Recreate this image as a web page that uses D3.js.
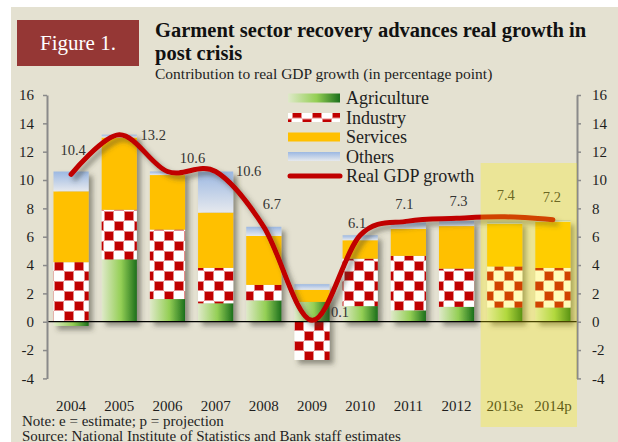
<!DOCTYPE html>
<html>
<head>
<meta charset="utf-8">
<script src="https://cdn.jsdelivr.net/npm/d3@7"></script>
<style>
  html, body { margin: 0; padding: 0; background: #fff; }
  svg text { font-family: 'Liberation Serif', 'Times New Roman', serif; }
</style>
</head>
<body>
<div id="chart"></div>
<script>
const years       = ['2004', '2005', '2006', '2007', '2008', '2009', '2010', '2011', '2012', '2013e', '2014p']
const agriculture = [-0.3, 4.4, 1.6, 1.3, 1.5, 1.4, 1.1, 0.8, 1.05, 1.0, 1.0]
const industry    = [4.2, 3.5, 4.9, 2.5, 1.1, -2.7, 3.35, 3.85, 2.7, 2.9, 2.8]
const services    = [5.0, 5.1, 3.85, 3.9, 3.45, 0.85, 1.3, 1.9, 3.0, 3.0, 3.25]
const others      = [1.4, 0.2, 0.25, 2.9, 0.65, 0.4, 0.35, 0.45, 0.35, 0.15, 0.1]
const gdpGrowth   = [10.4, 13.2, 10.6, 10.6, 6.7, 0.1, 6.1, 7.1, 7.3, 7.4, 7.2]
const yTicks      = [-4, -2, 0, 2, 4, 6, 8, 10, 12, 14, 16]
const seriesKeys  = ['Agriculture', 'Industry', 'Services', 'Others']
const lineName    = 'Real GDP growth'
const shaded      = ['2013e', '2014p']

const titleLines = ['Garment sector recovery advances real growth in', 'post crisis']
const subtitle   = 'Contribution to real GDP growth (in percentage point)'
const notes      = ['Note: e = estimate; p = projection',
                    'Source: National Institute of Statistics and Bank staff estimates']

const W = 618, H = 442
const plot = { left: 47, right: 577, top: 95, bottom: 378.4 }

const svg = d3.select('#chart').append('svg')
  .attr('width', W).attr('height', H)

svg.append('rect').attr('x', 11).attr('y', 7)
  .attr('width', W - 11).attr('height', H - 7)
  .attr('fill', '#e4e1d1')

// ---- defs: gradients, checker, shadow
const defs = svg.append('defs')

const agriGrad = defs.append('linearGradient').attr('id', 'agri')
  .attr('x1', 0).attr('x2', 1).attr('y1', 0).attr('y2', 0)
agriGrad.append('stop').attr('offset', '0%').attr('stop-color', '#dfe9c9')
agriGrad.append('stop').attr('offset', '55%').attr('stop-color', '#94cf55')
agriGrad.append('stop').attr('offset', '100%').attr('stop-color', '#1b6f1b')

const othGrad = defs.append('linearGradient').attr('id', 'oth')
  .attr('x1', 0).attr('x2', 0).attr('y1', 0).attr('y2', 1)
othGrad.append('stop').attr('offset', '0%').attr('stop-color', '#9cb8e2')
othGrad.append('stop').attr('offset', '100%').attr('stop-color', '#e6e9ee')

const checker = defs.append('pattern').attr('id', 'checker')
  .attr('patternUnits', 'userSpaceOnUse')
  .attr('x', 54).attr('y', 1).attr('width', 20).attr('height', 20)
checker.append('rect').attr('width', 20).attr('height', 20).attr('fill', '#fff')
checker.selectAll('rect.c')
  .data([[0, 0], [10, 10]])
  .join('rect').attr('class', 'c')
    .attr('x', d => d[0] + 0.5).attr('y', d => d[1] + 0.5)
    .attr('width', 9).attr('height', 9)
    .attr('fill', '#c00000')
    .attr('stroke', '#e58a8a').attr('stroke-width', 1)

const shadow = defs.append('filter').attr('id', 'shadow')
  .attr('x', '-20%').attr('y', '-20%').attr('width', '160%').attr('height', '160%')
shadow.append('feDropShadow')
  .attr('dx', 4).attr('dy', 4).attr('stdDeviation', 2.5)
  .attr('flood-color', '#3a3a30').attr('flood-opacity', 0.5)

const fills = {
  Agriculture: 'url(#agri)',
  Industry:    'url(#checker)',
  Services:    '#ffc000',
  Others:      'url(#oth)',
}

// ---- scales
const x = d3.scaleBand().domain(years)
  .range([plot.left, plot.right])
  .paddingInner(0.27).paddingOuter(0.135)

const y = d3.scaleLinear().domain([-4, 16]).range([plot.bottom, plot.top])

// ---- stacked bars
const table = years.map((yr, i) => ({
  year: yr,
  Agriculture: agriculture[i],
  Industry: industry[i],
  Services: services[i],
  Others: others[i],
}))

const stacked = d3.stack().keys(seriesKeys).offset(d3.stackOffsetDiverging)(table)

const barsG = svg.append('g')
const perYear = years.map((yr, i) => stacked.map(s => ({ key: s.key, y0: s[i][0], y1: s[i][1], year: yr })))

barsG.selectAll('g.bar')
  .data(perYear)
  .join('g').attr('class', 'bar')
    .attr('filter', 'url(#shadow)')
  .selectAll('rect')
  .data(d => d)
  .join('rect')
    .attr('x', d => x(d.year))
    .attr('width', x.bandwidth())
    .attr('y', d => y(Math.max(d.y0, d.y1)))
    .attr('height', d => Math.abs(y(d.y0) - y(d.y1)))
    .attr('fill', d => fills[d.key])

// zero line
svg.append('line')
  .attr('x1', plot.left).attr('x2', plot.right)
  .attr('y1', y(0)).attr('y2', y(0))
  .attr('stroke', '#000').attr('stroke-width', 1.2)

// ---- axes
function styleAxis(g) {
  g.select('.domain').attr('stroke', '#8a8a8a').attr('stroke-width', 2)
  g.selectAll('.tick line').attr('stroke', '#8a8a8a').attr('stroke-width', 1.5)
  g.selectAll('.tick text')
    .attr('fill', '#1e1e1e')
    .attr('font-size', '15px')
    .attr('font-family', "'Liberation Serif', serif")
}

svg.append('g')
  .attr('transform', `translate(${plot.left},0)`)
  .call(d3.axisLeft(y).tickValues(yTicks).tickFormat(d => d)
    .tickSize(4).tickSizeOuter(0).tickPadding(9))
  .call(styleAxis)

svg.append('g')
  .attr('transform', `translate(${plot.right},0)`)
  .call(d3.axisRight(y).tickValues(yTicks).tickFormat(d => d)
    .tickSize(4).tickSizeOuter(0).tickPadding(11))
  .call(styleAxis)

svg.append('g')
  .attr('transform', `translate(0,${plot.bottom + 16})`)
  .call(d3.axisBottom(x).tickSize(0).tickPadding(5.5))
  .call(g => g.select('.domain').remove())
  .call(styleAxis)

// ---- GDP line
const cx = yr => x(yr) + x.bandwidth() / 2
const line = d3.line()
  .x((d, i) => cx(years[i]))
  .y(d => y(d))
  .curve(d3.curveCardinal.tension(0))

svg.append('path')
  .datum(gdpGrowth)
  .attr('d', line)
  .attr('fill', 'none')
  .attr('stroke', '#c00000')
  .attr('stroke-width', 5)
  .attr('stroke-linecap', 'round')
  .attr('filter', 'url(#shadow)')

// data labels, nudged like the original
const labelNudge = [[2, -24], [34, 0], [25, -14], [33, -1], [8, -23], [28, -8],
                    [-3, -12], [-4, -17], [2, -17], [1, -22], [-1, -23]]
svg.append('g')
  .selectAll('text')
  .data(gdpGrowth)
  .join('text')
    .attr('x', (d, i) => cx(years[i]) + labelNudge[i][0])
    .attr('y', (d, i) => y(d) + labelNudge[i][1])
    .attr('dy', '0.35em')
    .attr('text-anchor', 'middle')
    .attr('font-size', '14.5px')
    .attr('fill', '#333')
    .text(d => d3.format('.1f')(d))

// ---- legend
const legend = svg.append('g').attr('transform', 'translate(288,98)')
const legendItems = seriesKeys.concat([lineName])
const li = legend.selectAll('g')
  .data(legendItems)
  .join('g')
    .attr('transform', (d, i) => `translate(0,${i * 19.5})`)

li.filter(d => d !== lineName)
  .append('rect')
    .attr('x', 0).attr('y', -4.5).attr('width', 52).attr('height', 9)
    .attr('fill', d => fills[d])

li.filter(d => d === lineName)
  .append('line')
    .attr('x1', 2).attr('x2', 52).attr('y1', 0).attr('y2', 0)
    .attr('stroke', '#c00000').attr('stroke-width', 5)
    .attr('stroke-linecap', 'round')

li.append('text')
  .attr('x', 58).attr('dy', '0.35em')
  .attr('font-size', '18px')
  .attr('fill', '#1e1e1e')
  .text(d => d)

// ---- projection shading (sits over everything in that area)
svg.append('rect')
  .attr('x', x(shaded[0]) - x.step() * x.paddingInner() / 2)
  .attr('y', 163)
  .attr('width', plot.right - (x(shaded[0]) - x.step() * x.paddingInner() / 2))
  .attr('height', 427 - 163)
  .attr('fill', '#fff000')
  .attr('opacity', 0.28)

// ---- title block
svg.append('rect')
  .attr('x', 17).attr('y', 20).attr('width', 122).attr('height', 46)
  .attr('fill', '#953735')
svg.append('text')
  .attr('x', 78).attr('y', 50)
  .attr('text-anchor', 'middle')
  .attr('font-size', '21px')
  .attr('fill', '#fff')
  .text('Figure 1.')

svg.append('g')
  .selectAll('text')
  .data(titleLines)
  .join('text')
    .attr('x', 155)
    .attr('y', (d, i) => 37 + i * 23)
    .attr('font-size', '20.5px')
    .attr('font-weight', 'bold')
    .attr('fill', '#111')
    .text(d => d)

svg.append('text')
  .attr('x', 155).attr('y', 79)
  .attr('font-size', '15.5px')
  .attr('fill', '#1e1e1e')
  .text(subtitle)

svg.append('g')
  .selectAll('text')
  .data(notes)
  .join('text')
    .attr('x', 22)
    .attr('y', (d, i) => 425.5 + i * 15)
    .attr('font-size', '15px')
    .attr('fill', '#1e1e1e')
    .text(d => d)
</script>
</body>
</html>
